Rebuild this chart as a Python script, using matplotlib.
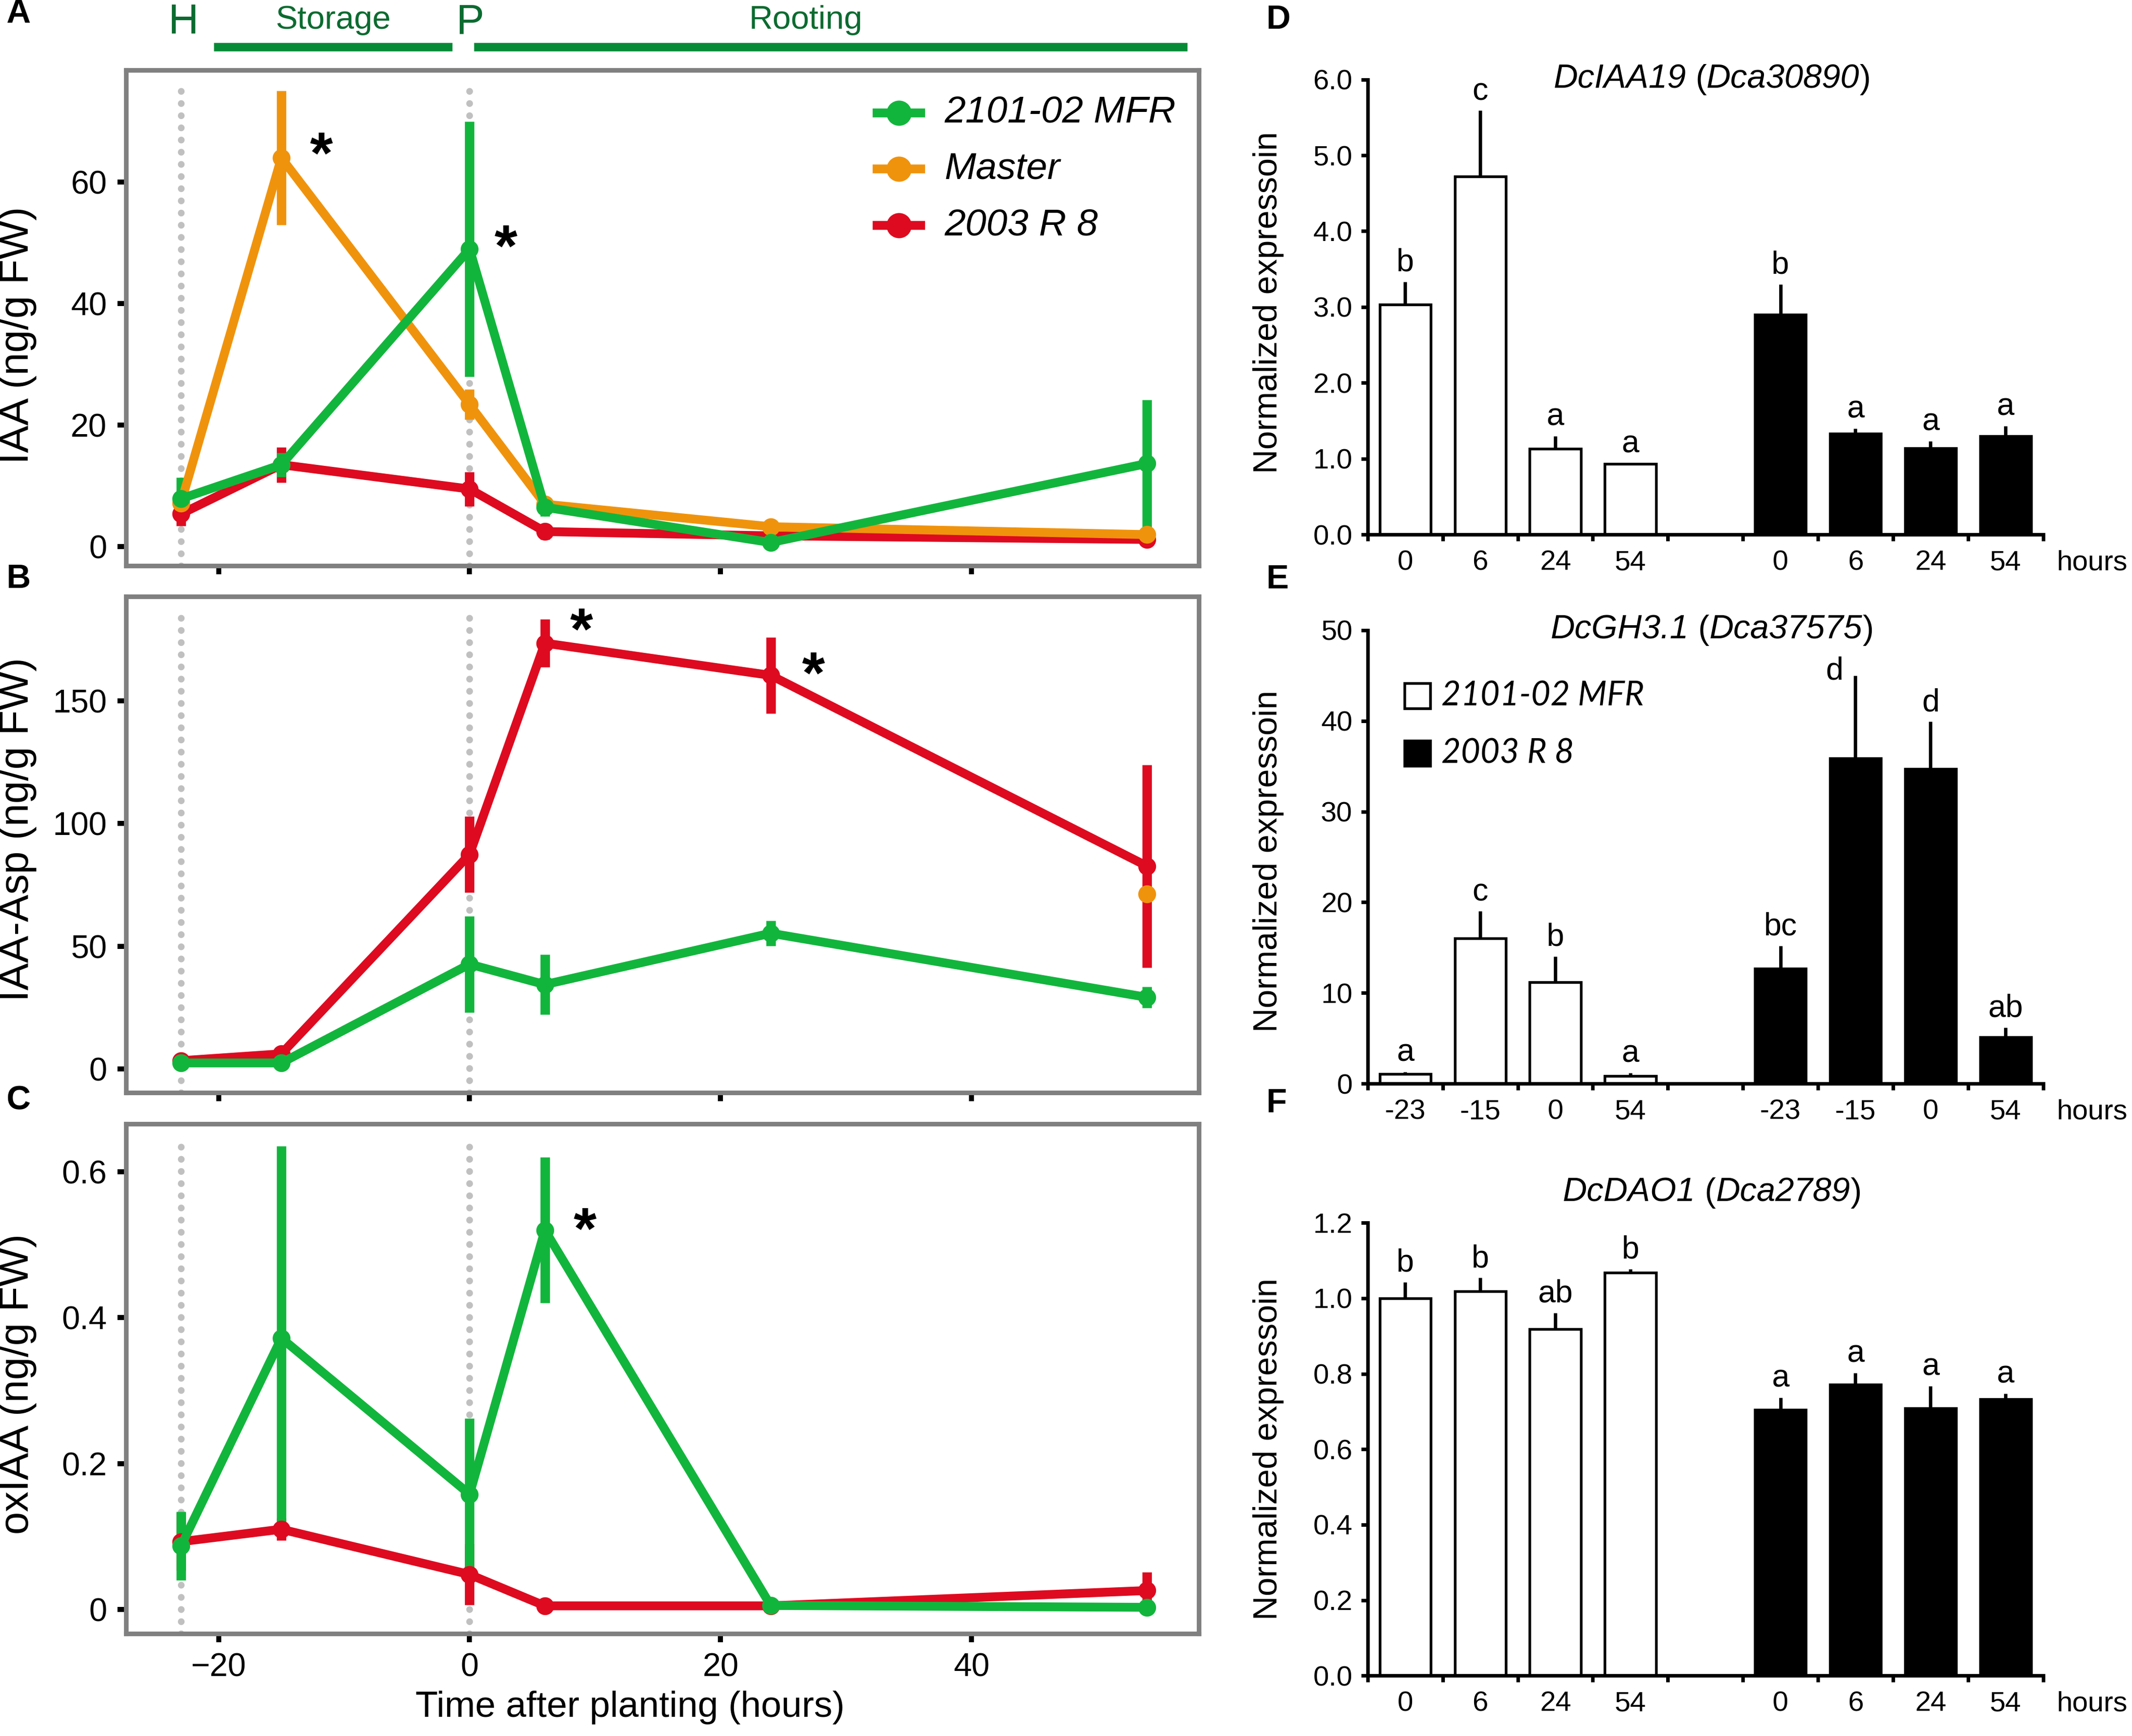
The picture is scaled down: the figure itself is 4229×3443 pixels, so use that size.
import numpy as np
import matplotlib
matplotlib.use("Agg")
import matplotlib.pyplot as plt
from matplotlib import transforms
from matplotlib.patches import Rectangle
from matplotlib.offsetbox import TextArea, HPacker, AnchoredOffsetbox

plt.rcParams['font.family'] = ['Liberation Sans', 'DejaVu Sans']

# ---------- hormone time course (ng/g FW) ----------
hours = [-23, -15, 0, 6, 24, 54]

iaa_mfr = [7.9, 13.5, 49.0, 6.5, 0.7, 13.7]
iaa_mfr_err = [3.5, 2.0, 21.0, 1.5, 0.5, 10.5]
iaa_master = [7.2, 64.0, 23.4, 7.0, 3.3, 2.0]
iaa_master_err = [2.0, 11.0, 2.5, 1.0, 1.0, 0.6]
iaa_r8 = [5.4, 13.5, 9.5, 2.5, 1.8, 1.2]
iaa_r8_err = [2.0, 2.9, 2.8, 1.3, 0.5, 1.0]

asp_mfr = [2.5, 2.5, 42.7, 34.4, 55.3, 29.2]
asp_mfr_err = [0.5, 0.5, 19.6, 12.2, 5.2, 4.3]
asp_master = [np.nan, np.nan, np.nan, np.nan, np.nan, 71.3]
asp_r8 = [3.4, 6.2, 87.4, 173.4, 160.3, 82.6]
asp_r8_err = [0.5, 1.0, 15.5, 9.8, 15.5, 41.3]

ox_mfr = [0.087, 0.372, 0.158, 0.52, 0.0055, 0.003]
ox_mfr_err = [0.047, 0.263, 0.104, 0.10, 0.002, 0.002]
ox_r8 = [0.093, 0.11, 0.048, 0.005, 0.005, 0.026]
ox_r8_err = [0.04, 0.015, 0.042, 0.002, 0.002, 0.025]

line_labels = ['2101-02 MFR', 'Master', '2003 R 8']

# ---------- gene expression bars ----------
d_gene = ['DcIAA19', 'Dca30890']
d_hours = ['0', '6', '24', '54']
d_mfr = [3.03, 4.72, 1.13, 0.93]
d_mfr_err = [0.30, 0.87, 0.17, 0.01]
d_r8 = [2.90, 1.33, 1.14, 1.30]
d_r8_err = [0.40, 0.07, 0.09, 0.13]
d_mfr_let = ['b', 'c', 'a', 'a']
d_r8_let = ['b', 'a', 'a', 'a']

e_gene = ['DcGH3.1', 'Dca37575']
e_hours = ['-23', '-15', '0', '54']
e_mfr = [1.04, 16.0, 11.2, 0.86]
e_mfr_err = [0.26, 3.0, 2.8, 0.30]
e_r8 = [12.66, 35.85, 34.7, 5.14]
e_r8_err = [2.55, 9.15, 5.2, 1.06]
e_mfr_let = ['a', 'c', 'b', 'a']
e_r8_let = ['bc', 'd', 'd', 'ab']

f_gene = ['DcDAO1', 'Dca2789']
f_hours = ['0', '6', '24', '54']
f_mfr = [1.00, 1.018, 0.918, 1.068]
f_mfr_err = [0.043, 0.036, 0.043, 0.01]
f_r8 = [0.704, 0.771, 0.709, 0.732]
f_r8_err = [0.033, 0.031, 0.058, 0.015]
f_mfr_let = ['b', 'b', 'ab', 'b']
f_r8_let = ['a', 'a', 'a', 'a']

bar_labels = ['2101-02 MFR', '2003 R 8']

GREEN = '#12b53c'
ORANGE = '#f0930c'
RED = '#de0a20'
DKGREEN = '#078a36'
TXTGREEN = '#0b6b30'


def line_panel(ax, series, ylim, yticks, yticklabels, ylabel, label_y, xlabels):
    for x in (-23, 0):
        ax.axvline(x, ymin=0.0, ymax=0.975, color='#c0c0c0', lw=3.2,
                   linestyle=(0, (0.01, 1.8)), dash_capstyle='round', zorder=1)
    for vals, errs, color in series:
        if errs is None:
            ax.plot(hours, vals, 'o', color=color, ms=7.5, zorder=3)
        else:
            ax.errorbar(hours, vals, yerr=errs, color=color, lw=4.2, marker='o',
                        ms=7.5, elinewidth=4.5, capsize=0, zorder=3)
    ax.set_xlim(-27.4, 58.1)
    ax.set_ylim(*ylim)
    ax.set_yticks(yticks)
    ax.set_yticklabels(yticklabels)
    ax.set_xticks([-20, 0, 20, 40])
    for s in ax.spines.values():
        s.set_color('#808080')
        s.set_linewidth(2.2)
    ax.tick_params(direction='out', length=4, width=2.4, color='black',
                   labelsize=15.5, pad=5, labelbottom=xlabels)
    ax.set_ylabel(ylabel, fontsize=19.5)
    ax.yaxis.set_label_coords(-0.083, label_y)


def star(ax, x, y):
    ax.annotate('*', (x, y), xytext=(0, -15), textcoords='offset points',
                ha='center', va='baseline', fontsize=28, fontweight='bold')


def gene_title(ax, gene, x, y):
    parts = [(gene[0], 'italic'), (' (', 'normal'), (gene[1], 'italic'), (')', 'normal')]
    boxes = [TextArea(t, textprops=dict(fontsize=16, fontstyle=st)) for t, st in parts]
    pack = HPacker(children=boxes, align='baseline', pad=0, sep=0)
    anch = AnchoredOffsetbox(loc='center', child=pack, pad=0, borderpad=0,
                             frameon=False, bbox_to_anchor=(x, y),
                             bbox_transform=ax.transAxes)
    ax.add_artist(anch)


def bar_panel(ax, gene, title_y, labels, mfr, mfr_err, r8, r8_err,
              mfr_let, r8_let, ylim, yticks, fmt, label_y, shifts=None):
    shifts = shifts or {}
    groups = [(np.arange(4), mfr, mfr_err, 'white', mfr_let),
              (np.arange(5, 9), r8, r8_err, 'black', r8_let)]
    for pos, vals, errs, color, lets in groups:
        vals = np.array(vals)
        errs = np.array(errs)
        ax.errorbar(pos, vals, yerr=[np.zeros(len(vals)), errs], fmt='none',
                    ecolor='black', elinewidth=1.6, capsize=0, zorder=3)
        ax.bar(pos, vals, width=0.68, color=color, edgecolor='black',
               linewidth=1.3, zorder=2)
        for p, v, e, l in zip(pos, vals, errs, lets):
            ax.annotate(l, (p, v + e), xytext=shifts.get(int(p), (0, 2)),
                        textcoords='offset points', ha='center', va='bottom',
                        fontsize=15)
    ax.set_xlim(-0.5, 8.5)
    ax.set_ylim(*ylim)
    ax.set_yticks(yticks)
    ax.set_yticklabels([fmt.format(v) for v in yticks])
    ax.set_xticks(np.arange(-0.5, 9.0, 1.0))
    ax.set_xticklabels([])
    ax.set_xticks(list(range(4)) + list(range(5, 9)), minor=True)
    ax.set_xticklabels(labels + labels, minor=True)
    for side in ('top', 'right'):
        ax.spines[side].set_visible(False)
    for side in ('left', 'bottom'):
        ax.spines[side].set_linewidth(1.7)
    ax.tick_params(which='major', direction='out', length=3.2, width=1.7,
                   labelsize=13.5, pad=4)
    ax.tick_params(which='minor', length=0, labelsize=13.5, pad=7.2)
    ax.annotate('hours', (1.02, 0), xycoords='axes fraction', xytext=(0, -7.2),
                textcoords='offset points', ha='left', va='top', fontsize=13.5)
    ax.set_ylabel('Normalized expressoin', fontsize=16)
    ax.yaxis.set_label_coords(-0.124, label_y)
    gene_title(ax, gene, 0.51, title_y)


fig = plt.figure(figsize=(4229 / 300, 3443 / 300), dpi=300)

axA = fig.add_axes([0.0590, 0.6742, 0.5032, 0.2853])
axB = fig.add_axes([0.0590, 0.3706, 0.5032, 0.2858])
axC = fig.add_axes([0.0590, 0.0590, 0.5032, 0.2935])
axD = fig.add_axes([0.6415, 0.6921, 0.3168, 0.2621])
axE = fig.add_axes([0.6415, 0.3758, 0.3168, 0.2612])
axF = fig.add_axes([0.6415, 0.0348, 0.3168, 0.2608])

# A: IAA
line_panel(axA, [(iaa_r8, iaa_r8_err, RED), (iaa_master, iaa_master_err, ORANGE),
                 (iaa_mfr, iaa_mfr_err, GREEN)],
           (-3.1, 78.4), [0, 20, 40, 60], ['0', '20', '40', '60'],
           'IAA (ng/g FW)', 0.465, False)
star(axA, -11.8, 66.7)
star(axA, 2.9, 51.4)

# legend of panel A
for i, (lab, col) in enumerate(zip(line_labels, [GREEN, ORANGE, RED])):
    y = 0.914 - i * 0.1135
    axA.plot([0.696, 0.745], [y, y], color=col, lw=4.2, transform=axA.transAxes,
             solid_capstyle='butt', clip_on=False)
    axA.plot([0.7205], [y], 'o', color=col, ms=11, transform=axA.transAxes,
             clip_on=False)
    axA.text(0.763, y, lab, transform=axA.transAxes, fontsize=18,
             fontstyle='italic', va='center', ha='left')

# timeline above panel A
tl = transforms.blended_transform_factory(axA.transData, axA.transAxes)
axA.plot([-20.4, -1.4], [1.047, 1.047], color=DKGREEN, lw=4.0, transform=tl,
         solid_capstyle='butt', clip_on=False)
axA.plot([0.34, 57.2], [1.047, 1.047], color=DKGREEN, lw=4.0, transform=tl,
         solid_capstyle='butt', clip_on=False)
for txt, x, y, fs in [('H', -22.85, 1.0747, 20), ('Storage', -10.86, 1.0835, 15.7),
                      ('P', 0.0, 1.0747, 20), ('Rooting', 26.8, 1.0835, 15.7)]:
    axA.text(x, y, txt, transform=tl, ha='center', va='baseline', fontsize=fs,
             color=TXTGREEN)

# B: IAA-Asp
line_panel(axB, [(asp_r8, asp_r8_err, RED), (asp_master, None, ORANGE),
                 (asp_mfr, asp_mfr_err, GREEN)],
           (-9.6, 192.4), [0, 50, 100, 150], ['0', '50', '100', '150'],
           'IAA-Asp (ng/g FW)', 0.53, False)
star(axB, 8.9, 183.7)
star(axB, 27.4, 166.0)

# C: oxIAA
line_panel(axC, [(ox_r8, ox_r8_err, RED), (ox_mfr, ox_mfr_err, GREEN)],
           (-0.033, 0.6654), [0, 0.2, 0.4, 0.6], ['0', '0.2', '0.4', '0.6'],
           'oxIAA (ng/g FW)', 0.49, True)
star(axC, 9.2, 0.538)
axC.set_xlabel('Time after planting (hours)', fontsize=17.5)
axC.xaxis.set_label_coords(0.47, -0.112)

# D, E, F: expression bars
bar_panel(axD, d_gene, 1.0, d_hours,
          d_mfr, d_mfr_err, d_r8, d_r8_err, d_mfr_let, d_r8_let,
          (0, 6.0), [0, 1, 2, 3, 4, 5, 6], '{:.1f}', 0.51)
bar_panel(axE, e_gene, 1.0, e_hours,
          e_mfr, e_mfr_err, e_r8, e_r8_err, e_mfr_let, e_r8_let,
          (0, 50), [0, 10, 20, 30, 40, 50], '{:.0f}', 0.49,
          shifts={6: (-10, -5)})
bar_panel(axF, f_gene, 1.066, f_hours,
          f_mfr, f_mfr_err, f_r8, f_r8_err, f_mfr_let, f_r8_let,
          (0, 1.2), [0, 0.2, 0.4, 0.6, 0.8, 1.0, 1.2], '{:.1f}', 0.50)

# legend of panel E
for lab, col, y in zip(bar_labels, ['white', 'black'], [0.855, 0.728]):
    axE.add_patch(Rectangle((0.0739 - 0.019, y - 0.0278), 0.038, 0.0556,
                            facecolor=col, edgecolor='black', lw=1.3,
                            transform=axE.transAxes, clip_on=False))
    axE.text(0.109, y, lab, transform=axE.transAxes, fontsize=16,
             family=['Lato', 'DejaVu Sans'], fontstyle='italic',
             va='center', ha='left')

# panel letters
for letter, x, y in [('A', 0.003, 0.9918), ('B', 0.003, 0.6664), ('C', 0.003, 0.3657),
                     ('D', 0.5938, 0.9883), ('E', 0.5938, 0.666), ('F', 0.5938, 0.3641)]:
    fig.text(x, y, letter, fontsize=16, fontweight='bold', ha='left', va='center')

fig.savefig('out.png', dpi=300)
